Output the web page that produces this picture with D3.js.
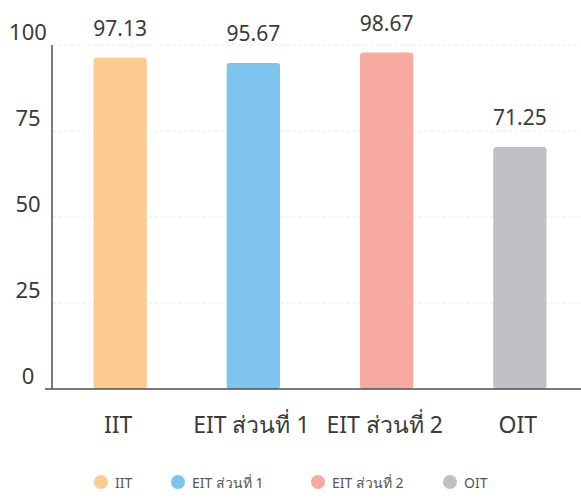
<!DOCTYPE html>
<html><head><meta charset="utf-8">
<script src="https://cdn.jsdelivr.net/npm/d3@7"></script>
<style>
html,body{margin:0;padding:0;background:#fff;}
svg{display:block;font-family:"Noto Sans","Open Sans",sans-serif;}
</style></head>
<body>
<svg id="chart" width="581" height="499"></svg>
<script>
const categories = ["IIT", "EIT ส่วนที่ 1", "EIT ส่วนที่ 2", "OIT"];
const values = [97.13, 95.67, 98.67, 71.25];
const valueLabels = ["97.13", "95.67", "98.67", "71.25"];
const colors = ["#FBCB90", "#7EC4EE", "#F7AAA0", "#BFC1C6"];
const yTicks = [0, 25, 50, 75, 100];

const svg = d3.select("#chart");
const y = d3.scaleLinear().domain([0, 100]).range([389, 45]);
const x = d3.scaleBand().domain(categories).range([53.5, 586.5]).paddingInner(0.6).paddingOuter(0.3);

// gridlines
svg.append("g").selectAll("line").data(yTicks.filter(d => d > 0)).join("line")
  .attr("x1", 52).attr("x2", 581)
  .attr("y1", d => y(d)).attr("y2", d => y(d))
  .attr("stroke", "#e8eaec").attr("stroke-width", 1).attr("stroke-dasharray", "4,2");

// y tick labels (above gridlines)
svg.append("g").selectAll("text").data(yTicks).join("text")
  .attr("x", 28).attr("y", d => y(d) - 14)
  .attr("text-anchor", "middle").attr("dominant-baseline", "central")
  .attr("font-size", 22).attr("fill", "#3a3a3a")
  .text(d => d);

// bars
svg.append("g").selectAll("rect").data(categories).join("rect")
  .attr("x", d => x(d)).attr("width", x.bandwidth())
  .attr("y", (d, i) => y(values[i]) + 3).attr("height", (d, i) => y(0) - y(values[i]) - 3)
  .attr("rx", 3).attr("fill", (d, i) => colors[i]);

// value labels
svg.append("g").selectAll("text").data(categories).join("text")
  .attr("x", d => x(d) + x.bandwidth() / 2)
  .attr("y", (d, i) => y(values[i]) - 27)
  .attr("text-anchor", "middle").attr("dominant-baseline", "central")
  .attr("font-size", 21).attr("fill", "#3a3a3a")
  .text((d, i) => valueLabels[i]);

// axes lines
svg.append("line").attr("x1", 52).attr("x2", 52).attr("y1", 45).attr("y2", 389)
  .attr("stroke", "#4a4f55").attr("stroke-width", 1.5);
svg.append("line").attr("x1", 45).attr("x2", 581).attr("y1", 389).attr("y2", 389)
  .attr("stroke", "#4a4f55").attr("stroke-width", 1.5);

// x labels
svg.append("g").selectAll("text").data(categories).join("text")
  .attr("x", d => x(d) + x.bandwidth() / 2 - 2)
  .attr("y", 424)
  .attr("text-anchor", "middle").attr("dominant-baseline", "central")
  .attr("font-size", 23).attr("fill", "#3a3a3a")
  .text(d => d);

// legend
const legendX = [101, 178, 318, 450];
const lg = svg.append("g").selectAll("g").data(categories).join("g")
  .attr("transform", (d, i) => `translate(${legendX[i]},482)`);
lg.append("circle").attr("r", 7).attr("fill", (d, i) => colors[i]);
lg.append("text").attr("x", 14).attr("dominant-baseline", "central")
  .attr("font-size", 14).attr("fill", "#555")
  .text(d => d);
</script>
</body></html>
